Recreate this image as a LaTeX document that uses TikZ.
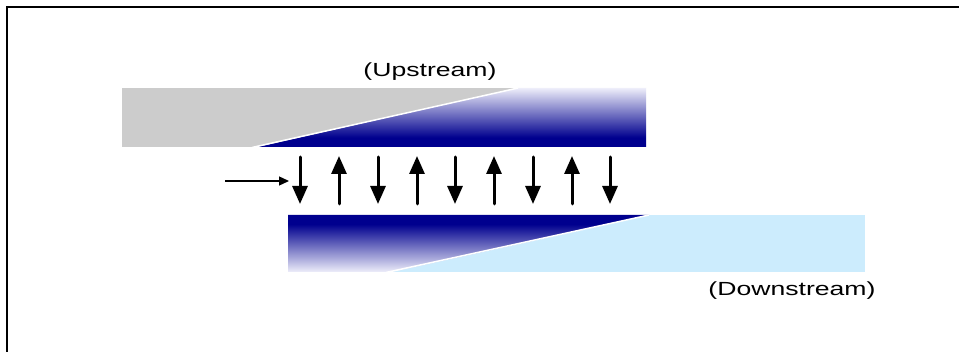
\documentclass[tikz,border=0pt]{standalone}
\usepackage{fontspec}
\usepackage{graphicx}
\setmainfont{Liberation Sans}
\usetikzlibrary{arrows.meta}
\definecolor{navyc}{RGB}{0,0,142}
\definecolor{lavc}{RGB}{238,238,250}
\definecolor{grayc}{RGB}{204,204,204}
\definecolor{skyc}{RGB}{204,236,253}
\pgfdeclareverticalshading{upshade}{100bp}{color(0bp)=(navyc); color(25bp)=(navyc); color(33bp)=(navyc); color(75bp)=(lavc); color(100bp)=(lavc)}
\pgfdeclareverticalshading{downshade}{100bp}{color(0bp)=(lavc); color(25bp)=(lavc); color(67bp)=(navyc); color(75bp)=(navyc); color(100bp)=(navyc)}
\tikzset{
  lbl/.style={inner sep=0pt, font=\fontsize{19}{22}\selectfont},
  bigarrow/.style={line width=3pt, line cap=round, -{Triangle[width=15pt,length=18pt]}},
  smallarrow/.style={line width=1.3pt, -{Triangle[width=9pt,length=10pt]}},
  seam/.style={draw=white, line width=1.5pt}
}
\begin{document}
\begin{tikzpicture}[x=1pt,y=-1pt]
\useasboundingbox (0,0) rectangle (959,352);
\fill[white] (0,0) rectangle (959,352);
% frame
\draw[line width=1.8pt] (7,352) -- (7,7) -- (959,7);
% upper block
\fill[grayc] (122,88) rectangle (646,147);
\shade[shading=upshade] (258,147) -- (518,88) -- (646,88) -- (646,147) -- cycle;
\draw[seam] (252,147.5) -- (518,88);
% lower block
\fill[skyc] (288,215) rectangle (865,272);
\shade[shading=downshade] (288,215) -- (649,215) -- (392,272) -- (288,272) -- cycle;
\draw[seam] (649,215) -- (386,272.5);
% labels
\node[lbl] (up) at (430,72) {\scalebox{1.4}[1]{(Upstream)}};
\node[lbl] (down) at (792,291) {\scalebox{1.4}[1]{(Downstream)}};
% horizontal arrow
\coordinate (hs) at (225,181);
\coordinate (he) at (289,181);
\draw[smallarrow] (hs) -- (he);
% vertical arrows
\foreach \i/\x in {1/300,3/378,5/455,7/533,9/610}{
  \coordinate (t\i) at (\x,157);
  \coordinate (b\i) at (\x,204);
  \draw[bigarrow] (t\i) -- (b\i);
}
\foreach \i/\x in {2/339,4/417,6/494,8/572}{
  \coordinate (t\i) at (\x,156);
  \coordinate (b\i) at (\x,204);
  \draw[bigarrow] (b\i) -- (t\i);
}
\end{tikzpicture}
\end{document}
